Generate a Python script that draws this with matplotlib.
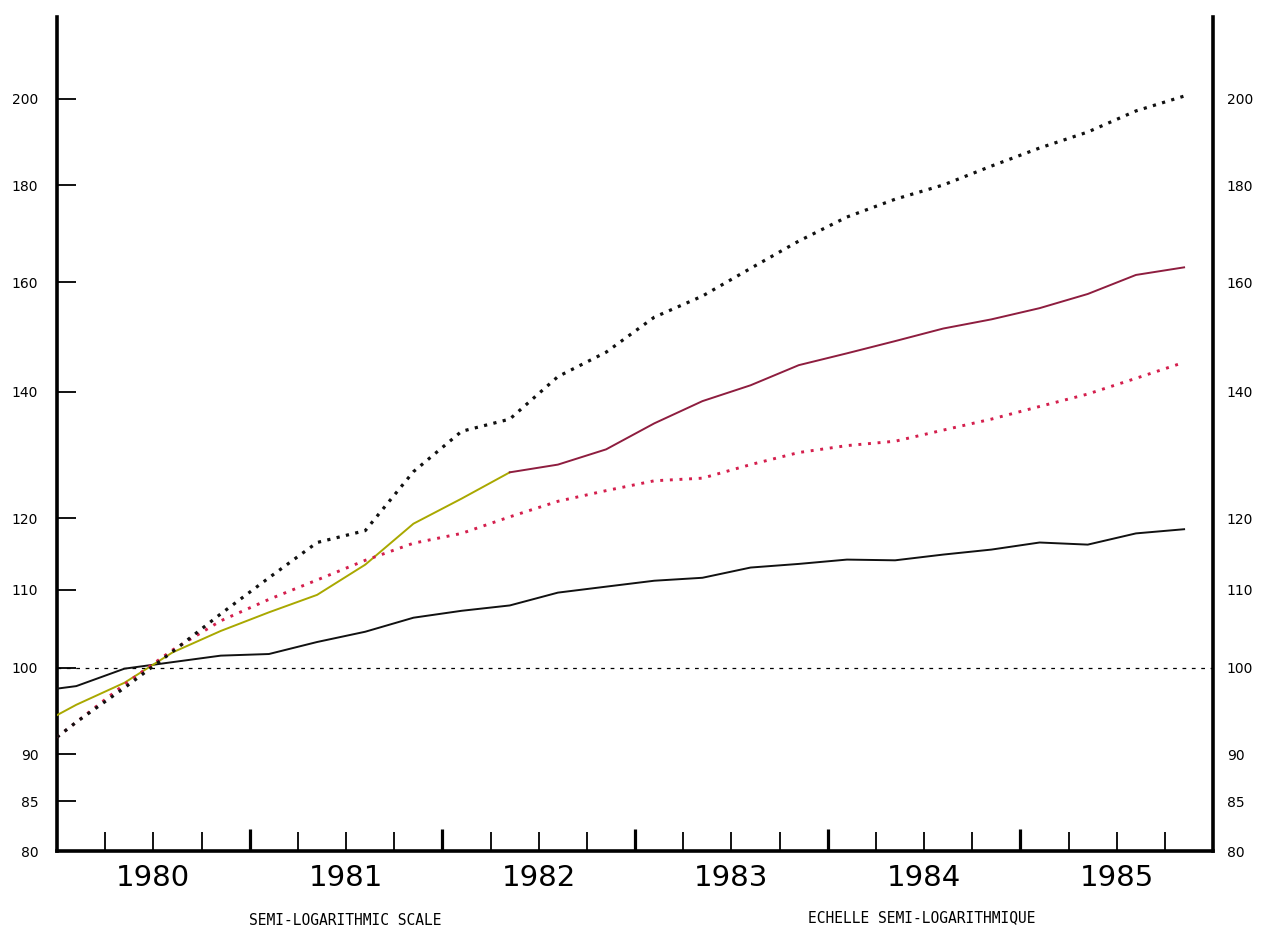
import matplotlib
matplotlib.use("Agg")
import matplotlib.pyplot as plt
from matplotlib.ticker import FixedLocator, FuncFormatter, NullLocator, NullFormatter

# ---------------- data ----------------
dates = [1980.00, 1980.10, 1980.35, 1980.60, 1980.85,
         1981.10, 1981.35, 1981.60, 1981.85,
         1982.10, 1982.35, 1982.60, 1982.85,
         1983.10, 1983.35, 1983.60, 1983.85,
         1984.10, 1984.35, 1984.60, 1984.85,
         1985.10, 1985.35, 1985.60, 1985.85]

black_solid = [97.5, 97.8, 99.9, 100.7, 101.5, 101.7, 103.2, 104.5, 106.3, 107.2,
               107.9, 109.6, 110.4, 111.2, 111.6, 113.0, 113.5, 114.1, 114.0, 114.8,
               115.5, 116.5, 116.2, 117.8, 118.4]

olive_maroon = [94.4, 95.6, 98.2, 101.9, 104.6, 107.0, 109.3, 113.4, 119.2, 122.9,
                126.9, 128.1, 130.5, 134.7, 138.4, 141.1, 144.6, 146.7, 148.9, 151.2,
                152.9, 155.0, 157.7, 161.4, 162.9]
color_switch_index = 10

black_cross = [91.9, 93.6, 97.6, 102.0, 106.8, 111.6, 116.5, 118.2, 127.0, 133.4,
               135.4, 142.6, 146.9, 153.3, 157.3, 162.7, 168.2, 173.2, 177.0, 180.1,
               184.3, 188.4, 192.1, 197.1, 200.7]

red_dot = [91.9, 93.6, 98.0, 102.2, 105.9, 108.7, 111.3, 114.0, 116.4, 117.8,
           120.2, 122.5, 124.1, 125.6, 126.0, 128.1, 130.0, 131.1, 131.8, 133.6,
           135.4, 137.5, 139.6, 142.3, 145.1]

y_ticks = [80, 85, 90, 100, 110, 120, 140, 160, 180, 200]
years = ["1980", "1981", "1982", "1983", "1984", "1985"]
year_bounds = [1981, 1982, 1983, 1984, 1985]
quarter_ticks = [y + q for y in range(1980, 1986) for q in (0.25, 0.5, 0.75)]

text_en = "SEMI-LOGARITHMIC SCALE"
text_fr = "ECHELLE SEMI-LOGARITHMIQUE"

# ---------------- figure ----------------
W, H = 1269, 930
fig = plt.figure(figsize=(W / 100, H / 100), dpi=100)
fig.patch.set_facecolor("white")
left_px, right_px, bottom_px, top_px = 57, 1213, 851, 17
ax = fig.add_axes([left_px / W, (H - bottom_px) / H,
                   (right_px - left_px) / W, (bottom_px - top_px) / H])

ax.set_yscale("log")
ax.set_xlim(1980, 1986)
ax.set_ylim(80, 221)

# reference line at 100
ax.axhline(100, color="black", lw=0.9, linestyle=(0, (3, 4.5)), zorder=1)

# series
ax.plot(dates, black_solid, color="#111111", lw=1.4, zorder=3)
ax.plot(dates[:color_switch_index + 1], olive_maroon[:color_switch_index + 1],
        color="#a9a800", lw=1.4, zorder=3)
ax.plot(dates[color_switch_index:], olive_maroon[color_switch_index:],
        color="#8e1d3f", lw=1.4, zorder=3)
ax.plot(dates, red_dot, color="#d41f4d", lw=2.1, linestyle=(0, (1.0, 2.3)),
        dash_capstyle="butt", zorder=4)
ax.plot(dates, black_cross, color="#111111", lw=2.3, linestyle=(0, (1.0, 2.0)),
        dash_capstyle="butt", zorder=5)

# spines
for side in ("left", "right", "bottom"):
    ax.spines[side].set_linewidth(2.6)
    ax.spines[side].set_color("black")
ax.spines["top"].set_visible(False)

# y ticks (left labels + ticks on both sides)
ax.yaxis.set_major_locator(FixedLocator(y_ticks))
ax.yaxis.set_major_formatter(FuncFormatter(lambda v, p: f"{v:.0f}"))
ax.yaxis.set_minor_locator(NullLocator())
ax.yaxis.set_minor_formatter(NullFormatter())
ax.tick_params(axis="y", which="major", direction="in", length=14, width=1.3,
               left=True, right=True, labelleft=True, labelright=False,
               labelsize=10, pad=13.5)

# right-hand labels
axr = ax.twinx()
axr.set_yscale("log")
axr.set_ylim(ax.get_ylim())
axr.yaxis.set_major_locator(FixedLocator(y_ticks))
axr.yaxis.set_major_formatter(FuncFormatter(lambda v, p: f"{v:.0f}"))
axr.yaxis.set_minor_locator(NullLocator())
axr.tick_params(axis="y", which="major", direction="in", length=0, labelsize=10, pad=10)
for s in axr.spines.values():
    s.set_visible(False)

# x ticks
ax.xaxis.set_major_locator(FixedLocator(year_bounds))
ax.xaxis.set_major_formatter(NullFormatter())
ax.xaxis.set_minor_locator(FixedLocator(quarter_ticks))


def year_fmt(v, p):
    frac = v - int(v)
    if abs(frac - 0.5) < 1e-6:
        return years[int(v) - 1980]
    return ""


ax.xaxis.set_minor_formatter(FuncFormatter(year_fmt))
ax.tick_params(axis="x", which="major", direction="in", length=16, width=2.3)
ax.tick_params(axis="x", which="minor", direction="in", length=14, width=1.3,
               labelsize=21, pad=9)

# bottom captions
fig.text(345 / W, 1 - 920 / H, text_en, ha="center", va="center",
         family="DejaVu Sans Mono", fontsize=10.5)
fig.text(922 / W, 1 - 918 / H, text_fr, ha="center", va="center",
         family="DejaVu Sans Mono", fontsize=10.5)

fig.savefig("out.png", dpi=100, facecolor="white")
